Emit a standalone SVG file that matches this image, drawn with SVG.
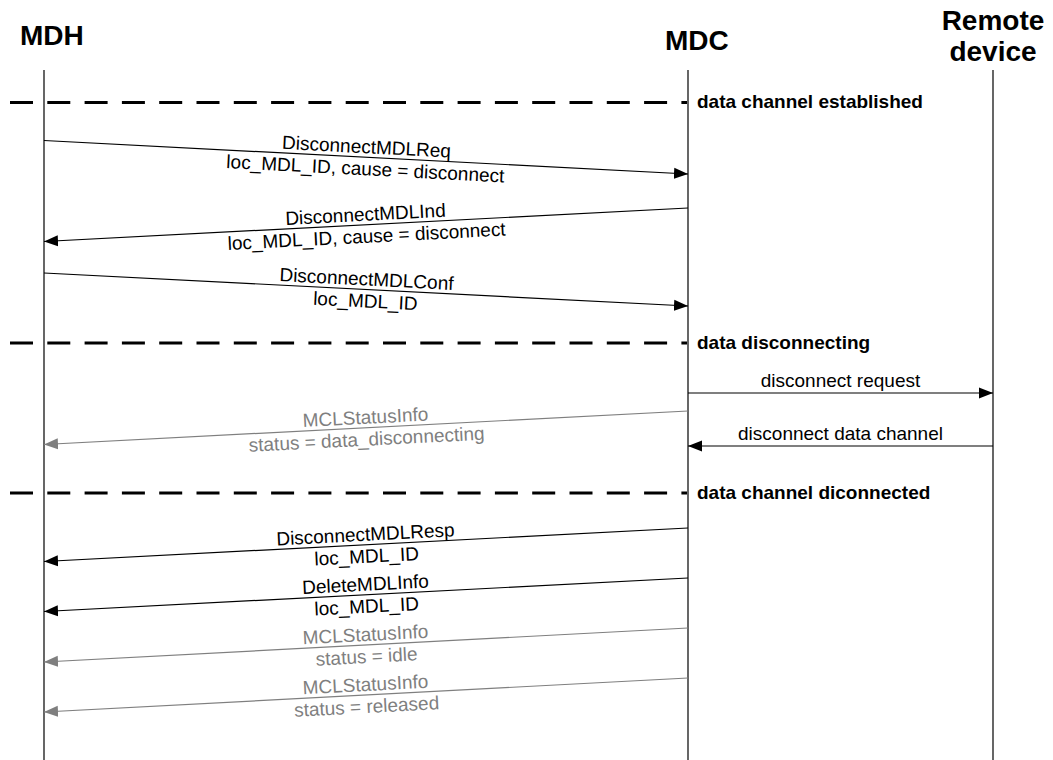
<svg xmlns="http://www.w3.org/2000/svg" width="1053" height="760" viewBox="0 0 1053 760">
  <defs>
    <marker id="ah" markerUnits="userSpaceOnUse" markerWidth="14" markerHeight="12" refX="14" refY="6" orient="auto">
      <path d="M0,0.5 L14,6 L0,11.5 z" fill="#000"/>
    </marker>
    <marker id="ah-grey" markerUnits="userSpaceOnUse" markerWidth="14" markerHeight="12" refX="14" refY="6" orient="auto">
      <path d="M0,0.5 L14,6 L0,11.5 z" fill="#7f7f7f"/>
    </marker>
    <style>
      text { font-family: "Liberation Sans", Arial, sans-serif; }
      .head { font-size: 28px; font-weight: bold; fill: #000; }
      .life { stroke: #000; stroke-width: 1.2; }
      .sep { stroke: #000; stroke-width: 3; stroke-dasharray: 23 14.3; }
      .state { font-size: 19px; font-weight: bold; fill: #000; }
      .msg { stroke: #000; stroke-width: 1.2; fill: none; marker-end: url(#ah); }
      .msg.grey { stroke: #7f7f7f; marker-end: url(#ah-grey); }
      .lbl { font-size: 19px; text-anchor: middle; fill: #000; }
      .lbl.grey { fill: #7f7f7f; }
    </style>
  </defs>

  <rect width="1053" height="760" fill="#fff"/>

  <!-- participants -->
  <g id="mdh">
    <text class="head" x="20" y="45">MDH</text>
    <line class="life" x1="44" y1="70" x2="44" y2="760"/>
  </g>
  <g id="mdc">
    <text class="head" x="665" y="50">MDC</text>
    <line class="life" x1="688" y1="70" x2="688" y2="760"/>
  </g>
  <g id="remote-device">
    <text class="head" x="993" y="30" text-anchor="middle">Remote</text>
    <text class="head" x="993" y="61" text-anchor="middle">device</text>
    <line class="life" x1="993" y1="70" x2="993" y2="760"/>
  </g>

  <!-- state separators -->
  <g id="states">
    <line class="sep" x1="10" y1="102.5" x2="687" y2="102.5"/>
    <text class="state" x="697" y="108">data channel established</text>
    <line class="sep" x1="10" y1="343" x2="687" y2="343"/>
    <text class="state" x="697" y="349">data disconnecting</text>
    <line class="sep" x1="10" y1="493" x2="687" y2="493"/>
    <text class="state" x="697" y="499">data channel diconnected</text>
  </g>

  <!-- messages: each label pair is centred on its line and follows its slope -->
  <g id="connectors">
    <line class="msg" x1="44" y1="140.5" x2="688" y2="174"/>
    <g transform="translate(366,157.25) rotate(2.98)">
      <text class="lbl" y="-4">DisconnectMDLReq</text>
      <text class="lbl" y="18">loc_MDL_ID, cause = disconnect</text>
    </g>

    <line class="msg" x1="688" y1="208" x2="44" y2="241.5"/>
    <g transform="translate(366,224.75) rotate(-2.98)">
      <text class="lbl" y="-4">DisconnectMDLInd</text>
      <text class="lbl" y="18">loc_MDL_ID, cause = disconnect</text>
    </g>

    <line class="msg" x1="44" y1="273" x2="688" y2="306"/>
    <g transform="translate(366,289.5) rotate(2.93)">
      <text class="lbl" y="-4">DisconnectMDLConf</text>
      <text class="lbl" y="18">loc_MDL_ID</text>
    </g>

    <line class="msg" x1="688" y1="393" x2="993" y2="393"/>
    <text class="lbl" x="840.5" y="387">disconnect request</text>

    <line class="msg grey" x1="688" y1="411" x2="44" y2="444.5"/>
    <g transform="translate(366,427.75) rotate(-2.98)">
      <text class="lbl grey" y="-4">MCLStatusInfo</text>
      <text class="lbl grey" y="18">status = data_disconnecting</text>
    </g>

    <line class="msg" x1="993" y1="446" x2="688" y2="446"/>
    <text class="lbl" x="840.5" y="440">disconnect data channel</text>

    <line class="msg" x1="688" y1="528" x2="44" y2="561.5"/>
    <g transform="translate(366,544.75) rotate(-2.98)">
      <text class="lbl" y="-4">DisconnectMDLResp</text>
      <text class="lbl" y="18">loc_MDL_ID</text>
    </g>

    <line class="msg" x1="688" y1="578" x2="44" y2="611.5"/>
    <g transform="translate(366,594.75) rotate(-2.98)">
      <text class="lbl" y="-4">DeleteMDLInfo</text>
      <text class="lbl" y="18">loc_MDL_ID</text>
    </g>

    <line class="msg grey" x1="688" y1="628" x2="44" y2="662"/>
    <g transform="translate(366,645) rotate(-3.02)">
      <text class="lbl grey" y="-4">MCLStatusInfo</text>
      <text class="lbl grey" y="18">status = idle</text>
    </g>

    <line class="msg grey" x1="688" y1="678" x2="44" y2="712"/>
    <g transform="translate(366,695) rotate(-3.02)">
      <text class="lbl grey" y="-4">MCLStatusInfo</text>
      <text class="lbl grey" y="18">status = released</text>
    </g>
  </g>
</svg>
